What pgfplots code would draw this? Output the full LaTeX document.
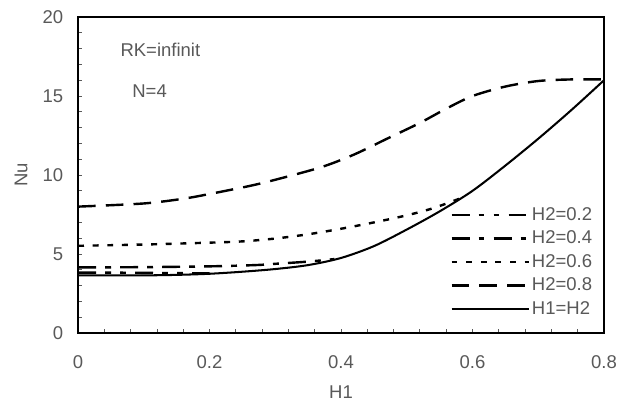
\documentclass[border=0pt]{standalone}
\usepackage{fontspec}
\setmainfont{Liberation Sans}
\usepackage{pgfplots}
\pgfplotsset{compat=1.18}
\definecolor{lblgray}{HTML}{595959}

\begin{document}
\begin{tikzpicture}
\begin{axis}[
  scale only axis, width=284.3pt, height=170.8pt,
  xmin=0, xmax=0.8, ymin=0, ymax=20,
  xtick={0,0.2,0.4,0.6,0.8},
  ytick={0,5,10,15,20},
  minor x tick num=4, minor y tick num=4,
  tick align=inside, xtick pos=bottom, ytick pos=left,
  major tick length=2.2pt, minor tick length=2.2pt,
  tick style={lblgray, line width=0.5pt},
  axis line style={line width=1pt, black},
  ticklabel style={font=\fontsize{10}{12}\selectfont, text=lblgray},
  /pgf/number format/assume math mode=true,
  xticklabel style={yshift=-8.5pt},
  yticklabel style={xshift=-4.5pt},
  xlabel={H1}, ylabel={Nu},
  every axis x label/.style={at={(axis description cs:0.5,0)}, anchor=center, yshift=-31.9pt, text=lblgray},
  every axis y label/.style={at={(axis description cs:0,0.5)}, anchor=center, xshift=-30.8pt, rotate=90, text=lblgray},
  legend style={draw=none, fill=none, at={(axis cs:0.5657,4.49)}, anchor=west,
    inner sep=0pt, row sep=2.6pt, text=lblgray, nodes={inner sep=0.8pt}},
  legend cell align=left,
  legend image code/.code={\draw[#1] (0pt,0pt) -- (42pt,0pt);},
]
\coordinate (sw) at (rel axis cs:0,0);
\coordinate (ne) at (rel axis cs:1,1);

% H2=0.2
\addplot[line width=1.3pt, smooth, dash pattern=on 9.7pt off 4.9pt on 3.2pt off 4.9pt on 3.2pt off 4.9pt] coordinates {
  (0,3.82)(0.05,3.82)(0.1,3.81)(0.15,3.79)(0.2,3.77)};
\addlegendentry{H2=0.2}
% H2=0.4
\addplot[line width=1.3pt, smooth, dash pattern=on 9.7pt off 4.9pt on 3.2pt off 4.9pt] coordinates {
  (0,4.15)(0.1,4.17)(0.2,4.22)(0.27,4.3)(0.3,4.38)(0.35,4.52)(0.39,4.68)};
\addlegendentry{H2=0.4}
% H2=0.6
\addplot[line width=1.3pt, smooth, dash pattern=on 3.2pt off 4.7pt] coordinates {
  (0,5.52)(0.1,5.6)(0.2,5.72)(0.25,5.8)(0.3,5.98)(0.35,6.25)(0.4,6.6)
  (0.45,7.0)(0.5,7.45)(0.54,7.9)(0.58,8.5)};
\addlegendentry{H2=0.6}
% H2=0.8
\addplot[line width=1.3pt, smooth, dash pattern=on 9.5pt off 5.5pt] coordinates {
  (0,8.0)(0.1,8.2)(0.16,8.5)(0.2,8.8)(0.26,9.3)(0.3,9.7)(0.37,10.5)
  (0.42,11.3)(0.47,12.3)(0.52,13.3)(0.56,14.2)(0.6,15.0)(0.65,15.6)
  (0.7,15.95)(0.75,16.05)(0.8,16.05)};
\addlegendentry{H2=0.8}
% H1=H2
\addplot[line width=1.1pt, smooth] coordinates {
  (0,3.65)(0.1,3.65)(0.15,3.68)(0.2,3.75)(0.25,3.88)(0.3,4.05)(0.35,4.3)
  (0.4,4.75)(0.45,5.5)(0.5,6.55)(0.55,7.7)(0.6,9.0)(0.65,10.6)(0.7,12.3)
  (0.75,14.1)(0.8,16.0)};
\addlegendentry{H1=H2}

\node[anchor=west, inner sep=0pt, text=lblgray] at (axis cs:0.064,17.9) {RK=infinit};
\node[anchor=west, inner sep=0pt, text=lblgray] at (axis cs:0.082,15.3) {N=4};
\end{axis}
\pgfresetboundingbox
\path ([xshift=-42.2pt,yshift=-36.8pt]sw) rectangle ([xshift=18.9pt,yshift=9.2pt]ne);
\end{tikzpicture}
\end{document}
